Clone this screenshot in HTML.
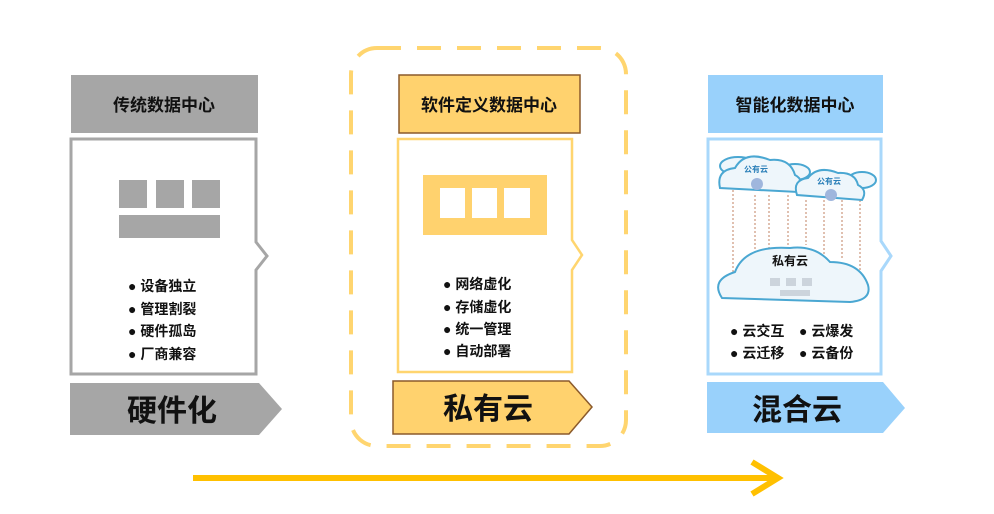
<!DOCTYPE html>
<html><head><meta charset="utf-8"><style>
body{margin:0;background:#fff;}
svg text{font-family:"Liberation Sans","Noto Sans CJK SC",sans-serif;font-weight:bold;}
</style></head><body>
<svg width="994" height="509" viewBox="0 0 994 509" xmlns="http://www.w3.org/2000/svg">
<!-- left -->
<rect x="71" y="75" width="187" height="58" fill="#a6a6a6"/>
<text x="164" y="111" font-size="17" text-anchor="middle" fill="#111">传统数据中心</text>
<path d="M71 139 H256 V242 L267 256 L256 270 V374 H71 Z" fill="#fff" stroke="#a6a6a6" stroke-width="3"/>
<rect x="119" y="180" width="28" height="28" fill="#a6a6a6"/>
<rect x="156" y="180" width="28" height="28" fill="#a6a6a6"/>
<rect x="192" y="180" width="28" height="28" fill="#a6a6a6"/>
<rect x="119" y="215" width="101" height="23" fill="#a6a6a6"/>
<g font-size="14" fill="#111">
<text x="128" y="291">● 设备独立</text>
<text x="128" y="314">● 管理割裂</text>
<text x="128" y="336">● 硬件孤岛</text>
<text x="128" y="359">● 厂商兼容</text>
</g>
<path d="M70 383 H259 L282 409 L259 435 H70 Z" fill="#a6a6a6"/>
<text x="172" y="421" font-size="30" text-anchor="middle" fill="#111">硬件化</text>
<!-- middle -->
<rect x="351" y="48" width="275" height="398" rx="26" fill="none" stroke="#ffd56f" stroke-width="4" stroke-dasharray="24 16"/>
<rect x="399" y="75" width="181" height="58" fill="#ffd26e" stroke="#8b5a2b" stroke-width="1.5"/>
<text x="489" y="111" font-size="17" text-anchor="middle" fill="#111">软件定义数据中心</text>
<path d="M398 139 H572 V240 L582 255 L572 270 V372 H398 Z" fill="#fff" stroke="#ffd56f" stroke-width="2.5"/>
<rect x="423" y="175" width="124" height="60" fill="#ffd26e"/>
<rect x="440" y="188" width="25" height="30" fill="#fff"/>
<rect x="472" y="188" width="25" height="30" fill="#fff"/>
<rect x="504" y="188" width="26" height="30" fill="#fff"/>
<g font-size="14" fill="#111">
<text x="443" y="289">● 网络虚化</text>
<text x="443" y="312">● 存储虚化</text>
<text x="443" y="334">● 统一管理</text>
<text x="443" y="356">● 自动部署</text>
</g>
<path d="M393 381 H569 L592 407 L569 434 H393 Z" fill="#ffd26e" stroke="#8b5a2b" stroke-width="1.5"/>
<text x="488" y="419" font-size="30" text-anchor="middle" fill="#111">私有云</text>
<!-- right -->
<rect x="708" y="75" width="175" height="58" fill="#99d1fb"/>
<text x="795" y="111" font-size="17" text-anchor="middle" fill="#111">智能化数据中心</text>
<path d="M708 139 H881 V241 L891 256 L881 271 V374 H708 Z" fill="#fff" stroke="#a9d8fb" stroke-width="3"/>
<!-- clouds -->
<g stroke="#c08060" stroke-width="1" stroke-dasharray="2 2">
<line x1="733" y1="190" x2="733" y2="275"/><line x1="755" y1="195" x2="755" y2="260"/>
<line x1="769" y1="195" x2="769" y2="250"/><line x1="788" y1="195" x2="788" y2="245"/>
<line x1="806" y1="200" x2="806" y2="245"/><line x1="824" y1="200" x2="824" y2="255"/>
<line x1="842" y1="200" x2="842" y2="260"/><line x1="860" y1="200" x2="860" y2="275"/>
</g>
<g fill="#eef6fb" stroke="#4aa7d2" stroke-width="2">
<ellipse cx="738" cy="166" rx="18" ry="9"/>
<ellipse cx="795" cy="172" rx="15" ry="8"/>
<ellipse cx="862" cy="180" rx="14" ry="8"/>
<path d="M720 188 Q716 170 735 168 Q745 150 770 160 Q790 158 795 175 Q805 180 798 192 Z"/>
<path d="M797 195 Q792 180 808 178 Q818 165 838 173 Q855 172 858 185 Q868 190 862 200 Z"/>
<path d="M722 298 Q710 280 735 272 Q745 245 790 248 Q815 245 830 262 Q860 262 868 285 Q872 300 850 302 Z"/>
</g>
<text x="756" y="172" font-size="8" fill="#2a7fb8" text-anchor="middle">公有云</text>
<text x="829" y="184" font-size="8" fill="#2a7fb8" text-anchor="middle">公有云</text>
<text x="790" y="265" font-size="12" fill="#111" text-anchor="middle">私有云</text>
<g fill="#ccd4dc"><rect x="770" y="278" width="10" height="8"/><rect x="786" y="278" width="10" height="8"/><rect x="802" y="278" width="10" height="8"/><rect x="780" y="290" width="30" height="6"/></g>
<circle cx="757" cy="184" r="6" fill="#9fb6dd"/><circle cx="831" cy="195" r="6" fill="#9fb6dd"/>
<g font-size="14" fill="#111">
<text x="730" y="336">● 云交互</text>
<text x="799" y="336">● 云爆发</text>
<text x="730" y="358">● 云迁移</text>
<text x="799" y="358">● 云备份</text>
</g>
<path d="M707 382 H883 L905 408 L883 433 H707 Z" fill="#99d1fb"/>
<text x="797" y="420" font-size="30" text-anchor="middle" fill="#111">混合云</text>
<!-- bottom arrow -->
<line x1="193" y1="478" x2="776" y2="478" stroke="#ffc000" stroke-width="6"/>
<polyline points="752,462 778,478 752,494" fill="none" stroke="#ffc000" stroke-width="6"/>
</svg>
</body></html>
